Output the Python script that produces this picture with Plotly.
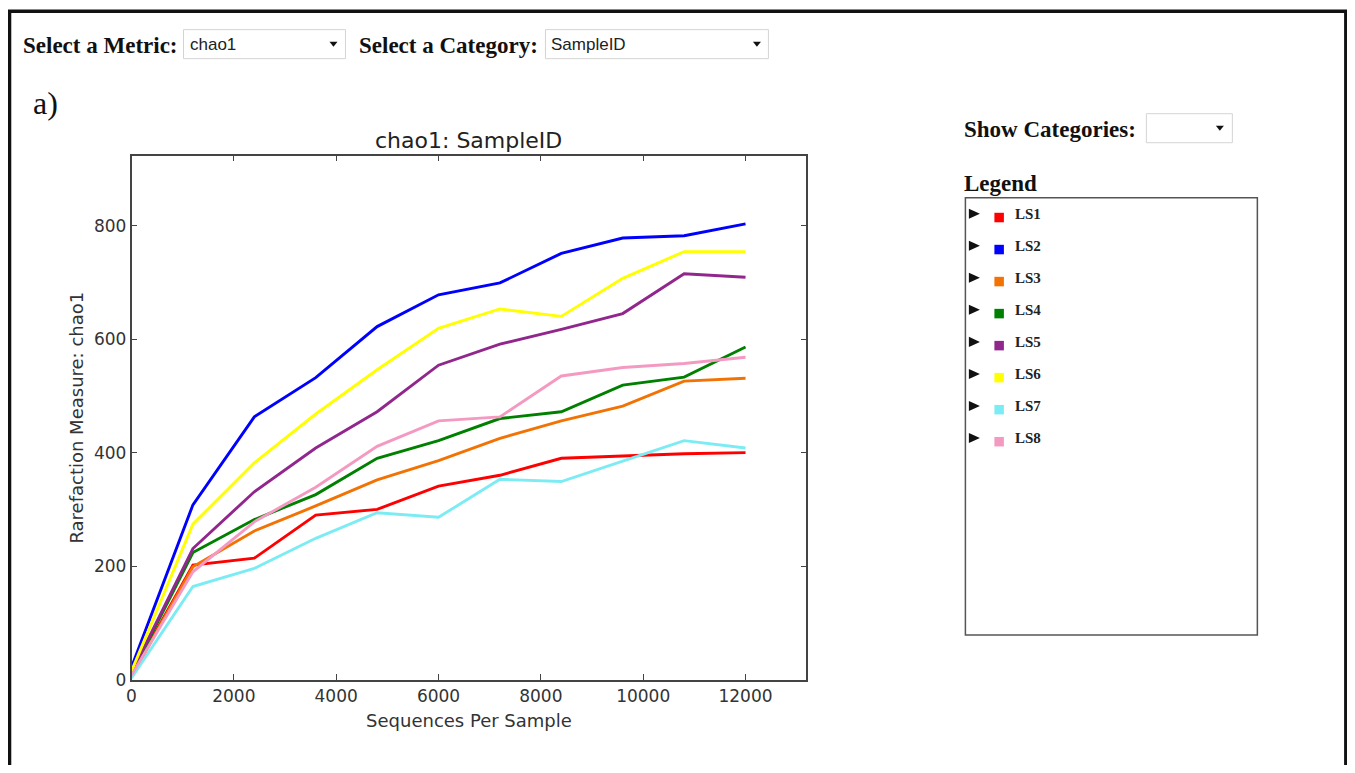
import plotly.graph_objects as go

# ---------------- data ----------------
seqs_per_sample = [0, 1200, 2400, 3600, 4800, 6000, 7200, 8400, 9600, 10800, 12000]
series_names = ["LS1", "LS2", "LS3", "LS4", "LS5", "LS6", "LS7", "LS8"]
series_colors = ["#ff0000", "#0000ff", "#f27304", "#008000", "#91278d", "#ffff00", "#7cecf4", "#f49ac2"]
LS1 = [8, 202, 214, 290, 300, 341, 360, 390, 394, 398, 400]
LS2 = [22, 308, 463, 532, 622, 678, 699, 751, 778, 782, 803]
LS3 = [5, 199, 262, 306, 352, 386, 425, 456, 482, 526, 531]
LS4 = [10, 224, 282, 326, 390, 421, 460, 472, 519, 533, 586]
LS5 = [12, 231, 331, 408, 472, 554, 591, 617, 645, 715, 709]
LS6 = [15, 274, 382, 468, 546, 619, 653, 640, 707, 754, 754]
LS7 = [3, 164, 196, 249, 294, 286, 353, 349, 385, 421, 408]
LS8 = [8, 190, 278, 339, 411, 456, 463, 535, 550, 557, 568]
series_values = [LS1, LS2, LS3, LS4, LS5, LS6, LS7, LS8]
x_ticks = [0, 2000, 4000, 6000, 8000, 10000, 12000]
x_tick_labels = ["0", "2000", "4000", "6000", "8000", "10000", "12000"]
y_ticks = [0, 200, 400, 600, 800]
y_tick_labels = ["0", "200", "400", "600", "800"]
metric = "chao1"
category = "SampleID"

# ---------------- geometry helpers (target pixel -> paper) ----------------
# the page body keeps its default 8px margin, so the figure starts at (8, 8);
# a small correction maps target-image pixels to page pixels
OFF = 8
W, H = 1355 - 2 * OFF, 773 - 2 * OFF
SX, DX = 0.9964, 4.5
SY, DY = 0.986, 0.5


def fx(px):
    return ((px - DX) / SX - OFF) / W


def fy(py):
    return 1 - ((py - DY) / SY - OFF) / H


SERIF = "Liberation Serif, Times New Roman, serif"
SANS = "DejaVu Sans, sans-serif"
UI = "Liberation Sans, Arial, sans-serif"

fig = go.Figure()
for name, color, vals in zip(series_names, series_colors, series_values):
    fig.add_trace(go.Scatter(x=seqs_per_sample, y=vals, mode="lines", name=name,
                             line=dict(color=color, width=2.9), showlegend=False))

axis_common = dict(showgrid=False, zeroline=False, showline=True, linecolor="#444", linewidth=1.5,
                   mirror="allticks", ticks="inside", ticklen=6, tickwidth=1.2, tickcolor="#444",
                   tickfont=dict(family=SANS, size=17, color="#333"))

fig.update_layout(
    width=W, height=H, autosize=False,
    margin=dict(l=0, r=0, t=0, b=0),
    paper_bgcolor="white", plot_bgcolor="white",
    xaxis=dict(domain=[fx(131), fx(806)], range=[0, 13190], tickvals=x_ticks, ticktext=x_tick_labels,
               title=dict(text="Sequences Per Sample", font=dict(family=SANS, size=18, color="#333"), standoff=10),
               **axis_common),
    yaxis=dict(domain=[fy(679.5), fy(156)], range=[0, 923], tickvals=y_ticks, ticktext=y_tick_labels,
               title=dict(text="Rarefaction Measure: " + metric, font=dict(family=SANS, size=18, color="#333"), standoff=6),
               **axis_common),
)

shapes = []
annotations = []

# outer frame
shapes.append(dict(type="rect", xref="paper", yref="paper", x0=fx(9.0), x1=fx(1345.5), y0=fy(820), y1=fy(11.7),
                   line=dict(color="#111", width=3.5), fillcolor="rgba(0,0,0,0)", layer="above"))


def add_text(txt, x, y, family, size, bold=False, color="#111", xanchor="left", yanchor="middle"):
    t = "<b>%s</b>" % txt if bold else txt
    annotations.append(dict(text=t, x=fx(x), y=fy(y), xref="paper", yref="paper", showarrow=False,
                            xanchor=xanchor, yanchor=yanchor, font=dict(family=family, size=size, color=color)))


def add_dropdown(x0, x1, y0, y1, label, ax):
    shapes.append(dict(type="rect", xref="paper", yref="paper", x0=fx(x0), x1=fx(x1), y0=fy(y1), y1=fy(y0),
                       line=dict(color="#d4d4d4", width=1), fillcolor="white"))
    cy = (y0 + y1) / 2
    path = "M %f %f L %f %f L %f %f Z" % (fx(ax - 4), fy(cy - 2.5), fx(ax + 4), fy(cy - 2.5), fx(ax), fy(cy + 2.5))
    shapes.append(dict(type="path", xref="paper", yref="paper", path=path, fillcolor="#111", line=dict(width=0)))
    if label:
        add_text(label, x0 + 4, cy + 0.5, UI, 17, color="#222")


# top controls
add_text("Select a Metric:", 20, 46, SERIF, 23, bold=True)
add_dropdown(183, 345, 30, 59, metric, 333)
add_text("Select a Category:", 357, 46, SERIF, 23, bold=True)
add_dropdown(545, 768, 30, 59, category, 756.5)
add_text("a)", 30, 103, SERIF, 32)

# chart title
add_text(metric + ": " + category, 468.5, 141, SANS, 22, color="#222", xanchor="center")

# right panel
add_text("Show Categories:", 962, 130, SERIF, 23, bold=True)
add_dropdown(1146, 1232, 114, 143, "", 1219.5)
add_text("Legend", 962, 184, SERIF, 23, bold=True)
shapes.append(dict(type="rect", xref="paper", yref="paper", x0=fx(965), x1=fx(1257), y0=fy(635), y1=fy(198),
                   line=dict(color="#555", width=1.5), fillcolor="rgba(0,0,0,0)"))
for i, (name, color) in enumerate(zip(series_names, series_colors)):
    cy = 214 + 32 * i
    tri = "M %f %f L %f %f L %f %f Z" % (fx(968.5), fy(cy - 5), fx(968.5), fy(cy + 5), fx(979.5), fy(cy))
    shapes.append(dict(type="path", xref="paper", yref="paper", path=tri, fillcolor="#111", line=dict(width=0)))
    shapes.append(dict(type="rect", xref="paper", yref="paper", x0=fx(994), x1=fx(1003.5), y0=fy(222.5 + 32 * i),
                       y1=fy(213 + 32 * i), fillcolor=color, line=dict(width=0)))
    add_text(name, 1012.5, cy, SERIF, 15, bold=True, color="#222")

fig.update_layout(shapes=shapes, annotations=annotations)

fig.write_html("out.html", config={"displayModeBar": False})
